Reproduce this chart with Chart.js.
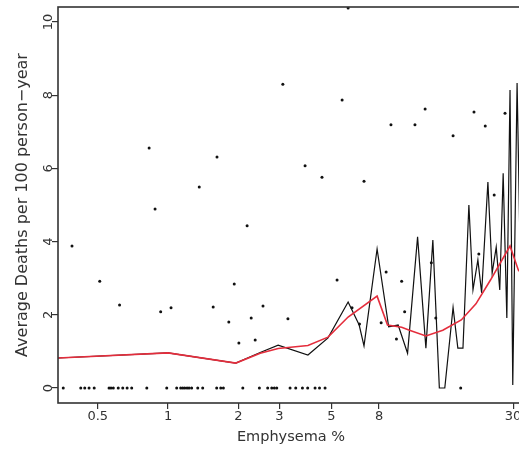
<!DOCTYPE html>
<html>
<head>
<meta charset="utf-8">
<script src="https://cdn.jsdelivr.net/npm/chart.js@4.4.1/dist/chart.umd.min.js"></script>
<style>
  html, body { margin: 0; padding: 0; background: #fff; overflow: hidden; }
  #wrap { width: 519px; height: 449px; overflow: hidden; }
  canvas { display: block; }
</style>
</head>
<body>
<div id="wrap"><canvas id="chart" width="530" height="449" style="width:530px;height:449px"></canvas></div>
<script>
// axis ticks
const xTicks = [0.5, 1, 2, 3, 5, 8, 30];
const yTicks = [0, 2, 4, 6, 8, 10];

// single observations (emphysema %, deaths per 100 person-year)
const dotX = [0.83, 1.62, 1.36, 0.88, 2.18, 0.388, 0.51, 0.62, 0.93, 1.03, 1.56, 1.92, 1.82, 2.01, 2.27, 2.36,
              2.55, 3.26, 5.29, 8.58, 10.0, 10.3, 8.17, 9.5, 13.4, 14.0, 21.4, 6.13, 6.6,
              3.1, 5.9, 5.56, 3.86, 4.56, 6.9, 9.0, 11.4, 12.6, 16.6, 20.4, 22.8, 27.7, 24.9];
const dotY = [6.56, 6.31, 5.49, 4.89, 4.43, 3.88, 2.92, 2.27, 2.08, 2.19, 2.21, 2.84, 1.80, 1.23, 1.91, 1.31,
              2.24, 1.89, 2.95, 3.17, 2.92, 2.08, 1.78, 1.34, 3.42, 1.91, 3.66, 2.19, 1.75,
              8.3, 10.38, 7.87, 6.07, 5.76, 5.65, 7.19, 7.19, 7.62, 6.89, 7.54, 7.16, 7.51, 5.27];
// observations with no deaths (y = 0)
const zeroX = [0.356, 0.423, 0.44, 0.459, 0.483, 0.559, 0.57, 0.583, 0.612, 0.64, 0.668, 0.699, 0.811,
               0.987, 1.089, 1.133, 1.156, 1.179, 1.206, 1.23, 1.262, 1.34, 1.407, 1.615, 1.681, 1.725,
               2.089, 2.46, 2.67, 2.78, 2.85, 2.92, 3.33, 3.52, 3.76, 3.96, 4.26, 4.45, 4.70, 17.9];

// black line: average at each emphysema level
const meanX = [0.338, 1.0, 1.95, 2.48, 2.96, 3.97, 4.84, 5.9, 6.58, 6.9, 7.85, 8.8, 9.66, 10.6, 11.7, 12.7,
               13.6, 14.5, 15.3, 16.6, 17.4, 18.3, 19.4, 20.2, 21.2, 22.0, 23.4, 24.4, 25.4, 26.3, 27.2,
               28.2, 29.1, 29.9, 31.2, 32.3];
const meanY = [0.82, 0.96, 0.68, 0.97, 1.17, 0.90, 1.37, 2.35, 1.72, 1.15, 3.80, 1.67, 1.72, 0.95, 4.13, 1.09,
               4.04, 0, 0, 2.2, 1.09, 1.09, 5.0, 2.68, 3.5, 2.6, 5.63, 3.14, 3.85, 2.68, 5.87,
               1.91, 8.14, 0.08, 8.33, 3.0];

// red line: smoothed trend
const smoothX = [0.338, 1.0, 1.95, 2.48, 2.96, 3.97, 4.84, 5.9, 7.85, 8.7, 10.0, 10.8, 12.7, 15.0, 18.0,
                 20.8, 24.0, 29.1, 31.6, 33.4];
const smoothY = [0.82, 0.96, 0.68, 0.95, 1.08, 1.16, 1.39, 1.94, 2.51, 1.72, 1.66, 1.58, 1.42, 1.58, 1.86,
                 2.3, 2.95, 3.88, 3.22, 3.05];

const xMin = 0.338, xMax = 33.4;
const pts = (xs, ys) => xs.map((x, i) => ({ x: x, y: ys[i] }));
const ink = "#333";

// box round the plot region, R style
const frame = {
  id: "frame",
  afterDraw(chart) {
    const a = chart.chartArea, ctx = chart.ctx;
    ctx.save();
    ctx.strokeStyle = ink;
    ctx.lineWidth = 1.6;
    ctx.strokeRect(a.left, a.top, a.right - a.left, a.bottom - a.top);
    ctx.restore();
  }
};

new Chart(document.getElementById("chart"), {
  type: "scatter",
  data: {
    datasets: [
      {
        label: "obs",
        data: pts(dotX, dotY),
        pointRadius: 1.5,
        pointBackgroundColor: "#111",
        pointBorderWidth: 0
      },
      {
        label: "obs0",
        data: zeroX.map(x => ({ x: x, y: 0 })),
        pointRadius: 1.5,
        pointBackgroundColor: "#111",
        pointBorderWidth: 0
      },
      {
        label: "smooth",
        data: pts(smoothX, smoothY),
        showLine: true,
        borderColor: "rgb(228,45,60)",
        borderWidth: 1.6,
        pointRadius: 0,
        tension: 0
      },
      {
        label: "mean",
        data: pts(meanX, meanY),
        showLine: true,
        borderColor: "#111",
        borderWidth: 1.2,
        pointRadius: 0,
        tension: 0
      }
    ]
  },
  options: {
    responsive: false,
    animation: false,
    layout: { padding: { left: 0, top: 7, right: 6, bottom: 0 } },
    plugins: { legend: { display: false }, tooltip: { enabled: false } },
    scales: {
      x: {
        type: "logarithmic",
        bounds: "data",
        min: xMin,
        max: xMax,
        afterBuildTicks: s => {
          s.ticks = xTicks.map(v => ({ value: v }));
          s.min = xMin;
          s.max = xMax;
        },
        afterFit: s => { s.height = 46; },
        grid: { display: true, drawOnChartArea: false, drawTicks: true, tickLength: 6, color: ink, lineWidth: 1.2 },
        border: { display: false },
        ticks: {
          autoSkip: false, maxRotation: 0, padding: 0, color: ink,
          font: { family: "DejaVu Sans", size: 13 },
          callback: v => String(v)
        },
        title: {
          display: true, text: "Emphysema %", color: ink,
          font: { family: "DejaVu Sans", size: 14.5 },
          padding: { top: 0, bottom: 3 }
        }
      },
      y: {
        min: -0.41,
        max: 10.41,
        afterBuildTicks: s => { s.ticks = yTicks.map(v => ({ value: v })); },
        afterFit: s => { s.width = 58; },
        grid: { display: true, drawOnChartArea: false, drawTicks: true, tickLength: 6, color: ink, lineWidth: 1.2 },
        border: { display: false },
        ticks: {
          autoSkip: false, minRotation: 90, maxRotation: 90, crossAlign: "center", padding: -5, color: ink,
          font: { family: "DejaVu Sans", size: 13 }
        },
        title: {
          display: true, text: "Average Deaths per 100 person\u2212year", color: ink,
          font: { family: "DejaVu Sans", size: 16 },
          padding: { top: 13, bottom: 0 }
        }
      }
    }
  },
  plugins: [frame]
});
</script>
</body>
</html>
